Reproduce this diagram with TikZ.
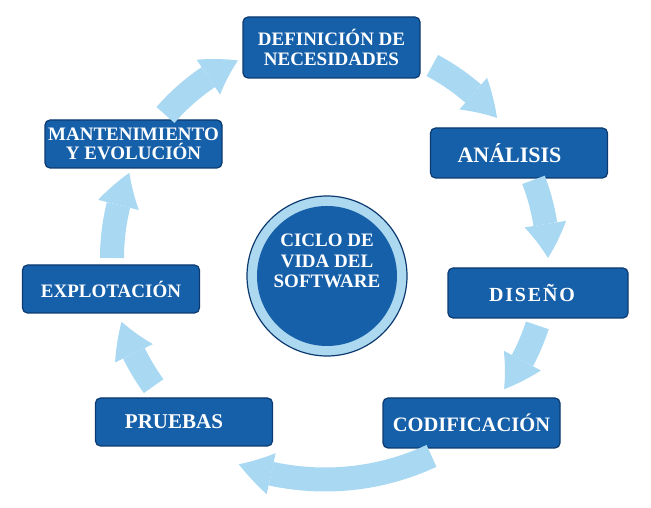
\documentclass[tikz,border=0pt]{standalone}
\usepackage{fontspec}
\setmainfont{Liberation Serif}
\usepackage{tikz}
\usetikzlibrary{arrows.meta, bending, positioning, calc}
\definecolor{stageblue}{RGB}{22,96,170}
\definecolor{stageedge}{RGB}{12,58,112}
\definecolor{flowblue}{RGB}{168,216,242}
\definecolor{ringblue}{RGB}{172,216,240}

\begin{document}
\begin{tikzpicture}[x=1pt, y=1pt,
    stage/.style={draw=stageedge, line width=1.2pt, fill=stageblue,
          rounded corners=5pt, text=white,
          font=\bfseries\fontsize{21}{21}\selectfont,
          minimum width=177pt, minimum height=50pt, inner sep=2pt},
    stagetwo/.style={stage, align=center,
          font=\bfseries\fontsize{19}{19.5}\selectfont},
    flow/.style={flowblue, line width=24pt,
          -{Triangle[width=42pt, length=34pt, line width=0pt, bend]}}]
    \useasboundingbox (0,0) rectangle (651,508);

    % the stages of the cycle
    \node[stagetwo, minimum height=61pt] (need) at (331.5,460.5)
          {DEFINICIÓN DE\\NECESIDADES};
    \node[stage, font=\bfseries\fontsize{22}{22}\selectfont] (analysis)
          at (519,355) {ANÁLISIS\hspace*{19pt}};
    \node[stage, minimum width=180pt,
          font=\bfseries\fontsize{20}{20}\selectfont\addfontfeatures{LetterSpace=9}]
          (design) at (538,215) {DISEÑO\hspace*{12pt}};
    \node[stage, font=\bfseries\fontsize{20.5}{20.5}\selectfont] (coding)
          at (471.5,85) {CODIFICACIÓN};
    \node[stage, minimum height=48pt] (testing) at (184,86) {PRUEBAS\hspace*{20pt}};
    \node[stage, minimum height=48pt, font=\bfseries\fontsize{19}{19}\selectfont]
          (operation) at (111,219) {EXPLOTACIÓN};
    \node[stagetwo, minimum height=48pt] (upkeep) at (133.5,364)
          {MANTENIMIENTO\\Y EVOLUCIÓN};

    % hub in the middle
    \fill[ringblue, draw=stageedge, line width=1.2pt] (327,232) circle (80);
    \fill[stageblue] (327,232) circle (70);
    \node[text=white, align=center,
          font=\bfseries\fontsize{19}{20.5}\selectfont] (hub) at (327,247)
          {CICLO DE\\VIDA DEL\\SOFTWARE};

    % arrows round the ring
    \coordinate (ring) at (330,250);
    \coordinate (dip) at (325,280.5);
    \foreach \from/\to in {62/40, 21/0, -18/-37, 216/197, 180/157, 139/115}
      \draw[flow] ($(ring)+(\from:218)$) arc[start angle=\from, end angle=\to, radius=218];
    \draw[flow] ($(dip)+(-65:252)$) arc[start angle=-65, end angle=-110, radius=252];
\end{tikzpicture}
\end{document}
